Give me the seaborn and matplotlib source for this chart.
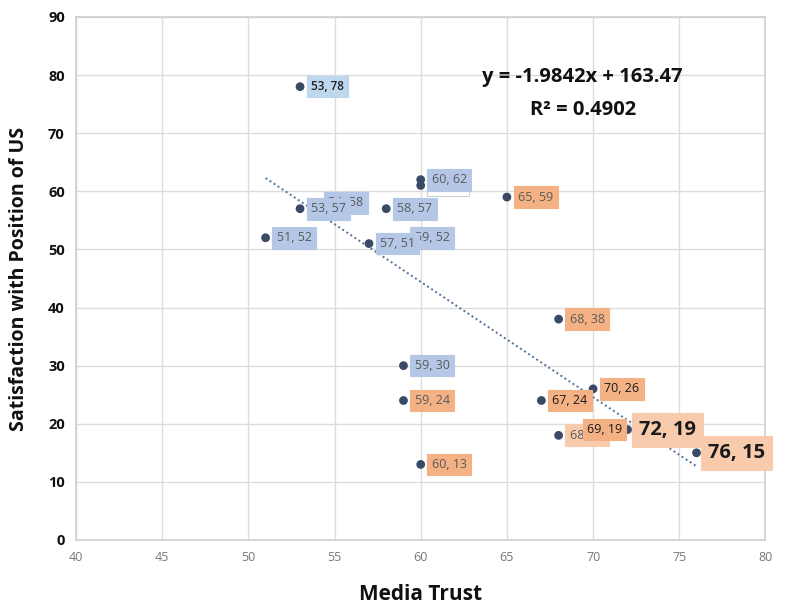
import matplotlib
matplotlib.use("Agg")
import matplotlib.pyplot as plt
import seaborn as sns
import numpy as np
import pandas as pd

# Data
media_trust = [53, 54, 60, 60, 53, 58, 51, 59, 57, 59, 65, 68, 59, 67, 70, 68, 69, 72, 76, 60]
satisfaction = [78, 58, 61, 62, 57, 57, 52, 52, 51, 30, 59, 38, 24, 24, 26, 18, 19, 19, 15, 13]
group = ["blue", "blue", "white", "blue", "blue", "blue", "blue", "blue", "blue", "blue",
         "orange", "orange", "orange", "orange", "orange", "orange2", "orange", "orange2", "orange2", "orange"]
label_style = ["boldlight", "normal", "normal", "normal", "normal", "normal", "normal", "normal", "normal", "normal",
               "normal", "normal", "normal", "dark", "dark", "normal", "dark", "big", "big", "normal"]
slope, intercept, r2 = -1.9842, 163.47, 0.4902
x_ticks = [40, 45, 50, 55, 60, 65, 70, 75, 80]
y_ticks = [0, 10, 20, 30, 40, 50, 60, 70, 80, 90]

df = pd.DataFrame({"x": media_trust, "y": satisfaction})

sns.set_theme(style="white")
plt.rcParams['font.family'] = ['Open Sans', 'DejaVu Sans']

fig = plt.figure(figsize=(7.88, 6.04), dpi=100)
ax = fig.add_axes([0.0964, 0.106, 0.875, 0.866])

# trendline
xs = np.array([min(media_trust), max(media_trust)])
ax.plot(xs, slope * xs + intercept, linestyle=(0, (1, 1.5)), color="#4f719a", lw=1.4, zorder=3)

sns.scatterplot(data=df, x="x", y="y", ax=ax, color="#3a4a66", s=40, edgecolor="none", zorder=4)

box_colors = {"blue": "#b4c7e7", "white": "#ffffff", "orange": "#f4b183", "orange2": "#f8cbad"}
z = 5
for xi, yi, g, st in zip(media_trust, satisfaction, group, label_style):
    fc = box_colors[g]
    ec = "#d0d0d0" if g == "white" else fc
    if st == "boldlight":
        fc = "#bdd7ee"; ec = fc
        kw = dict(fontsize=8.5, fontweight="semibold", color="#1f1f1f")
    elif st == "dark":
        kw = dict(fontsize=9, fontweight="medium", color="#1a1a1a")
    elif st == "big":
        kw = dict(fontsize=14.5, fontweight="bold", color="#1a1a1a")
    else:
        kw = dict(fontsize=9, color="#5a5a5a")
    txt = f"{xi}, {yi}" if g != "white" else "          "
    ax.annotate(txt, (xi, yi), xytext=(8, 0), textcoords="offset points",
                va="center", ha="left", zorder=z,
                bbox=dict(boxstyle="square,pad=0.35", fc=fc, ec=ec, lw=0.8), **kw)
    z += 1

ax.text(69.4, 79.6, f"y = {slope}x + {intercept}", ha="center", va="center",
        fontsize=14.5, fontweight="bold", color="#111111")
ax.text(69.4, 74.0, f"R² = {r2}", ha="center", va="center",
        fontsize=14.5, fontweight="bold", color="#111111")

ax.set_xlim(40, 80)
ax.set_ylim(0, 90)
ax.set_xticks(x_ticks)
ax.set_yticks(y_ticks)
ax.set_xticklabels([str(t) for t in x_ticks], fontsize=9, color="#777777")
ax.set_yticklabels([str(t) for t in y_ticks], fontsize=10.5, fontweight="bold", color="#111111")
ax.grid(True, color="#dcdcdc", lw=1)
ax.set_axisbelow(True)
for sp in ax.spines.values():
    sp.set_color("#d0d0d0")
    sp.set_linewidth(1.2)
ax.tick_params(axis="both", length=0, pad=8)
ax.set_xlabel("Media Trust", fontsize=15, fontweight="bold", color="#111111", labelpad=14)
ax.set_ylabel("Satisfaction with Position of US", fontsize=14, fontweight="bold", color="#111111", labelpad=14)

fig.savefig("out.png", dpi=100)
